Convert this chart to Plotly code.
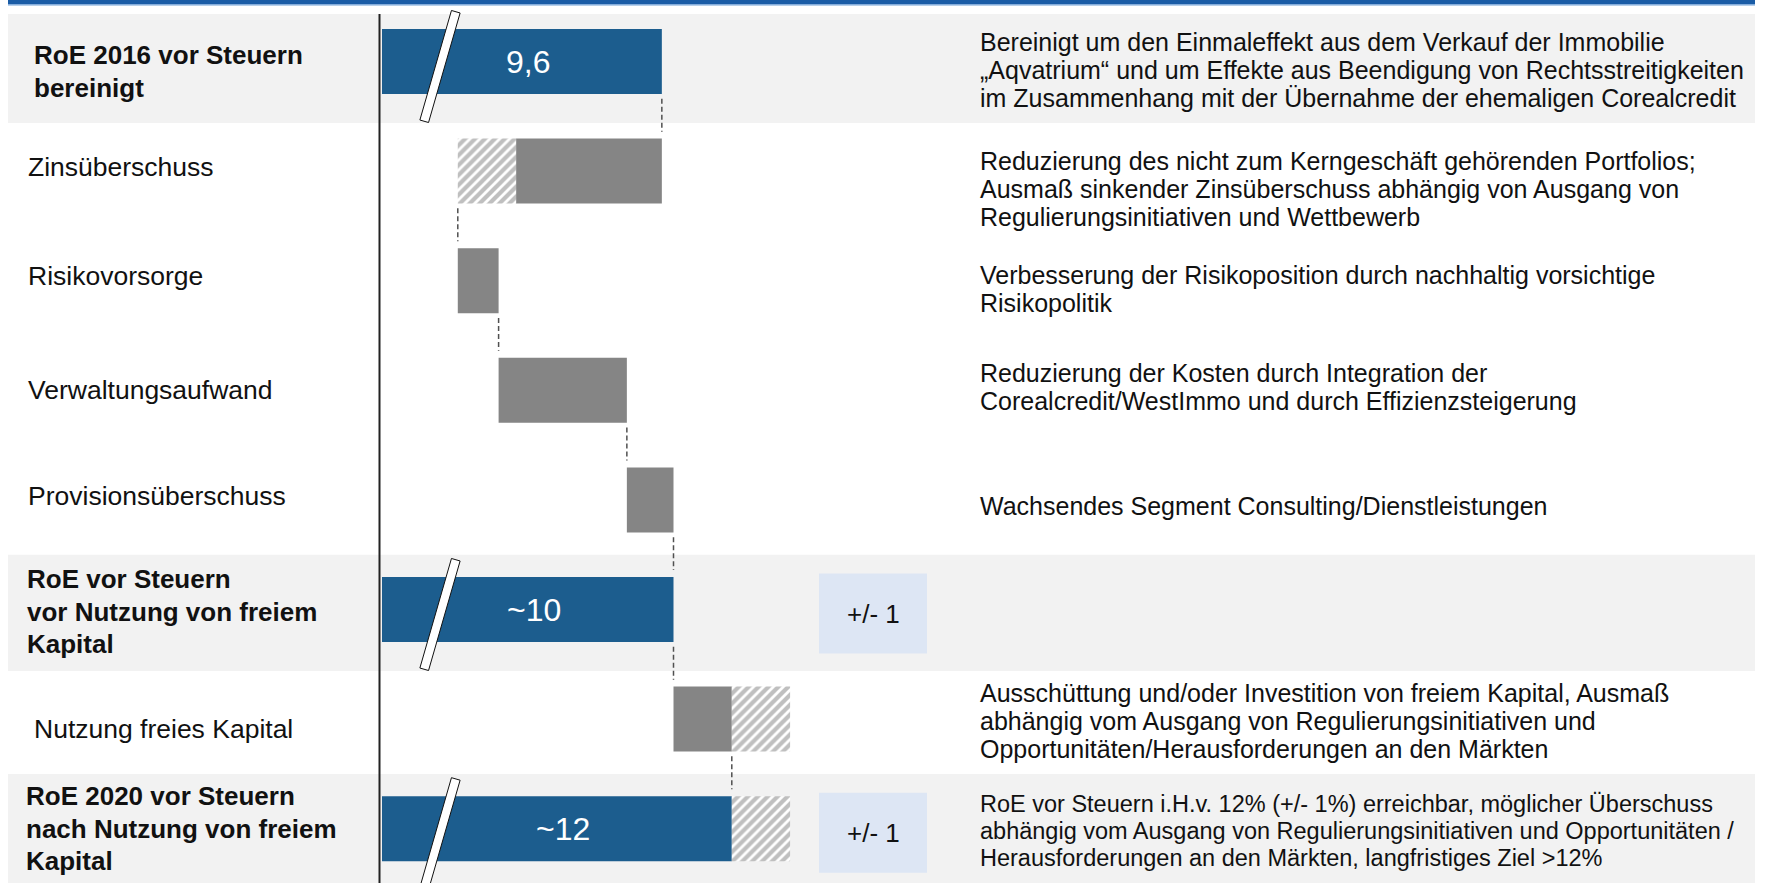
import math
import plotly.graph_objects as go

# ---------------- data ----------------
row_labels = [
    "RoE 2016 vor Steuern\nbereinigt",
    "Zinsüberschuss",
    "Risikovorsorge",
    "Verwaltungsaufwand",
    "Provisionsüberschuss",
    "RoE vor Steuern\nvor Nutzung von freiem\nKapital",
    "Nutzung freies Kapital",
    "RoE 2020 vor Steuern\nnach Nutzung von freiem\nKapital",
]
row_kind = ["total", "delta", "delta", "delta", "delta", "total", "delta", "total"]
row_values = [9.6, -5.0, 1.4, 4.4, 1.6, 10.0, 2.0, 12.0]
row_ranges = [0.0, -2.0, 0.0, 0.0, 0.0, 0.0, 2.0, 2.0]   # hatched (uncertain) part
value_labels = ["9,6", "", "", "", "", "~10", "", "~12"]
tolerance_labels = ["", "", "", "", "", "+/- 1", "", "+/- 1"]
descriptions = [
    "Bereinigt um den Einmaleffekt aus dem Verkauf der Immobilie\n„Aqvatrium“ und um Effekte aus Beendigung von Rechtsstreitigkeiten\nim Zusammenhang mit der Übernahme der ehemaligen Corealcredit",
    "Reduzierung des nicht zum Kerngeschäft gehörenden Portfolios;\nAusmaß sinkender Zinsüberschuss abhängig von Ausgang von\nRegulierungsinitiativen und Wettbewerb",
    "Verbesserung der Risikoposition durch nachhaltig vorsichtige\nRisikopolitik",
    "Reduzierung der Kosten durch Integration der\nCorealcredit/WestImmo und durch Effizienzsteigerung",
    "Wachsendes Segment Consulting/Dienstleistungen",
    "",
    "Ausschüttung und/oder Investition von freiem Kapital, Ausmaß\nabhängig vom Ausgang von Regulierungsinitiativen und\nOpportunitäten/Herausforderungen an den Märkten",
    "RoE vor Steuern i.H.v. 12% (+/- 1%) erreichbar, möglicher Überschuss\nabhängig vom Ausgang von Regulierungsinitiativen und Opportunitäten /\nHerausforderungen an den Märkten, langfristiges Ziel >12%",
]

# ---------------- layout constants ----------------
W, H = 1767, 883
X0_PX, PX_PER_UNIT = 382.0, 29.15
Y0_PX, PX_PER_ROW = 61.5, 109.6
FONT = "Liberation Sans, Arial, sans-serif"
BLUE = "#1c5d8e"
GRAY = "#858585"
BAND = "#f2f2f2"


def x_of_px(px):
    return (px - X0_PX) / PX_PER_UNIT


def y_of_px(py):
    return (py - Y0_PX) / PX_PER_ROW


def row_px(i):
    return Y0_PX + i * PX_PER_ROW


# ---------------- waterfall geometry ----------------
tot_y, tot_x, tot_base = [], [], []
sol_y, sol_x, sol_base = [], [], []
hat_y, hat_x, hat_base = [], [], []
ends = []
running = 0.0
for i, (k, v, r) in enumerate(zip(row_kind, row_values, row_ranges)):
    if k == "total":
        tot_y.append(i); tot_x.append(v); tot_base.append(0)
        if r:
            hat_y.append(i); hat_x.append(abs(r)); hat_base.append(min(v, v + r))
        running = v
    else:
        start = running
        end = start + v
        sol_y.append(i); sol_x.append(abs(v)); sol_base.append(min(start, end))
        if r:
            hat_y.append(i); hat_x.append(abs(r)); hat_base.append(min(end, end + r))
        running = end + r if v < 0 else end
    ends.append(running)

BAR_W = 65 / PX_PER_ROW

fig = go.Figure()
fig.add_trace(go.Bar(
    y=tot_y, x=tot_x, base=tot_base, orientation="h", width=BAR_W,
    marker=dict(color=BLUE, line=dict(width=0)), hoverinfo="skip",
))
fig.add_trace(go.Bar(
    y=sol_y, x=sol_x, base=sol_base, orientation="h", width=BAR_W,
    marker=dict(color=GRAY, line=dict(width=0)), hoverinfo="skip",
))
fig.add_trace(go.Bar(
    y=hat_y, x=hat_x, base=hat_base, orientation="h", width=BAR_W,
    marker=dict(color="white", line=dict(width=0),
                pattern=dict(shape="/", fgcolor="#808080", bgcolor="white",
                             size=7, solidity=0.6)),
    hoverinfo="skip",
))

shapes = []
annotations = []

# value labels in the total bars
for yi, xv, b in zip(tot_y, tot_x, tot_base):
    annotations.append(dict(xref="x", yref="y", x=b + xv / 2 + 0.2, y=yi,
                            text=value_labels[yi], showarrow=False,
                            xanchor="center", yanchor="middle",
                            font=dict(family=FONT, size=32, color="white")))

# grey bands behind the total rows
for i, k in enumerate(row_kind):
    if k == "total":
        y0 = max(i - 0.5, y_of_px(14))
        shapes.append(dict(type="rect", xref="paper", yref="y", layer="below",
                           x0=8 / W, x1=1755 / W, y0=y0, y1=i + 0.56,
                           fillcolor=BAND, line=dict(width=0)))

# top blue rule
shapes.append(dict(type="rect", xref="paper", yref="paper", x0=8 / W, x1=1755 / W,
                   y0=1 - 4.2 / H, y1=1, fillcolor="#1a5ca6", line=dict(width=0)))
shapes.append(dict(type="rect", xref="paper", yref="paper", x0=8 / W, x1=1755 / W,
                   y0=1 - 5.5 / H, y1=1 - 4.2 / H, fillcolor="#6f9fd6", line=dict(width=0)))

# vertical axis line
shapes.append(dict(type="line", xref="x", yref="paper", x0=x_of_px(379.5), x1=x_of_px(379.5),
                   y0=0, y1=1 - 14 / H, line=dict(color="#222222", width=2)))

# dashed connectors
for i in range(len(row_kind) - 1):
    xv = ends[i]
    shapes.append(dict(type="line", xref="x", yref="y", x0=xv, x1=xv,
                       y0=i + 0.34, y1=i + 1 - 0.36,
                       line=dict(color="#505050", width=1.5, dash="5px,3px")))

# axis-break marks on the total bars
dx, dy = -32.0, 111.0
L = math.hypot(dx, dy)
ux, uy = dx / L, dy / L
px_, py_ = uy, -ux
HL, HW = 57.0, 4.5
for i, k in enumerate(row_kind):
    if k == "total":
        cx, cy = 440.0, row_px(i) + 5
        pts = []
        for sa, sb in [(-1, -1), (-1, 1), (1, 1), (1, -1)]:
            X = cx + sa * HL * ux + sb * HW * px_
            Y = cy + sa * HL * uy + sb * HW * py_
            pts.append((x_of_px(X), y_of_px(Y)))
        path = "M " + " L ".join(f"{a:.4f},{b:.4f}" for a, b in pts) + " Z"
        shapes.append(dict(type="path", xref="x", yref="y", path=path,
                           fillcolor="white", line=dict(color="#111111", width=1)))

# tolerance boxes
for i, t in enumerate(tolerance_labels):
    if t:
        c = row_px(i) + 4
        shapes.append(dict(type="rect", xref="x", yref="y",
                           x0=x_of_px(819), x1=x_of_px(927),
                           y0=y_of_px(c - 40), y1=y_of_px(c + 40),
                           fillcolor="#dde6f4", line=dict(width=0)))
        annotations.append(dict(xref="x", yref="y", x=x_of_px(873), y=y_of_px(c),
                                text=t, showarrow=False, xanchor="center", yanchor="middle",
                                font=dict(family=FONT, size=26, color="#111111")))

# left row labels
label_x_px = [32, 26, 26, 26, 26, 25, 32, 24]
label_dy_px = [10, -4, -5, 0, -4, 2, 10, 0]
for i, lab in enumerate(row_labels):
    lines = lab.split("\n")
    bold = row_kind[i] == "total"
    size = 26 if bold else 26.5
    sp = 32.5
    c = row_px(i) + label_dy_px[i]
    for j, ln in enumerate(lines):
        yy = c + (j - (len(lines) - 1) / 2) * sp
        annotations.append(dict(xref="paper", yref="y", x=label_x_px[i] / W, y=y_of_px(yy),
                                text=f"<b>{ln}</b>" if bold else ln, showarrow=False,
                                xanchor="left", yanchor="middle",
                                font=dict(family=FONT, size=size, color="#111111")))

# right descriptions
desc_dy_px = [8, 18, 8, -3, 6, 0, 2, 2]
for i, d in enumerate(descriptions):
    if not d:
        continue
    lines = d.split("\n")
    size = 23.5 if i == 7 else 25
    sp = 27 if i == 7 else 28
    c = row_px(i) + desc_dy_px[i]
    for j, ln in enumerate(lines):
        yy = c + (j - (len(lines) - 1) / 2) * sp
        annotations.append(dict(xref="paper", yref="y", x=978 / W, y=y_of_px(yy),
                                text=ln, showarrow=False, xanchor="left", yanchor="middle",
                                font=dict(family=FONT, size=size, color="#111111")))

fig.update_layout(
    width=W, height=H,
    margin=dict(l=0, r=0, t=0, b=0),
    paper_bgcolor="white", plot_bgcolor="white",
    barmode="overlay", showlegend=False,
    xaxis=dict(range=[x_of_px(0), x_of_px(W)], visible=False, fixedrange=True),
    yaxis=dict(range=[y_of_px(H), y_of_px(0)], visible=False, fixedrange=True),
    shapes=shapes, annotations=annotations,
    font=dict(family=FONT),
)

fig.write_html("out.html", include_plotlyjs=True, full_html=True,
               config={"displayModeBar": False, "staticPlot": True},
               post_script="document.body.style.margin='0';document.body.style.overflow='hidden';")
